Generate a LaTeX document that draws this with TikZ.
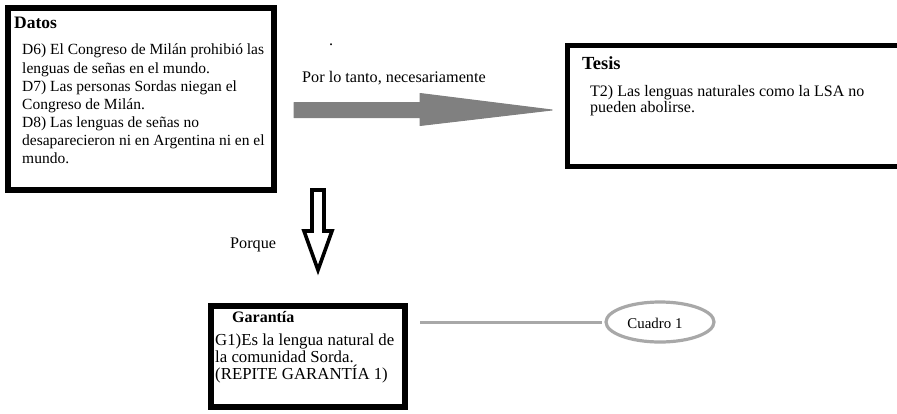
\documentclass[tikz,border=0pt]{standalone}
\usepackage{fontspec}
\setmainfont{Liberation Serif}
\usetikzlibrary{shapes.geometric}
\definecolor{arrowgray}{RGB}{128,128,128}
\definecolor{linegray}{RGB}{168,168,168}
\tikzset{
  frame/.style={draw=black, rectangle, inner sep=0pt},
  body/.style={anchor=north west, inner sep=0pt, align=left},
  title/.style={anchor=west, inner sep=0pt},
  label/.style={anchor=west, inner sep=0pt, font=\fontsize{16.2}{18}\selectfont},
  bigarrow/.style={fill=arrowgray, draw=arrowgray, line width=1pt, line join=round},
  openarrow/.style={draw=black, line width=3.6pt, fill=white, line join=miter},
  linkline/.style={draw=linegray, line width=3pt},
  oval/.style={draw=linegray, ellipse, line width=3.2pt, minimum width=108pt, minimum height=40pt, inner sep=0pt}
}
\begin{document}
\begin{tikzpicture}[x=1pt,y=-1pt]
\useasboundingbox[fill=white] (0,0) rectangle (897,413);
% boxes
\node[frame, line width=6pt, minimum width=266pt, minimum height=182pt] (datos) at (141,99) {};
\node[frame, line width=5pt, minimum width=337.5pt, minimum height=121pt] (tesis) at (736.25,106) {};
\node[frame, line width=6pt, minimum width=194pt, minimum height=101pt] (garantia) at (308,356.5) {};
\node[oval] (cuadro) at (660,322) {};
% texts
\node[title, font=\fontsize{17.5}{19}\selectfont\bfseries] (tdatos) at (14,23) {Datos};
\node[body, font=\fontsize{15.5}{18.1}\selectfont] (bdatos) at (22,44) {D6) El Congreso de Milán prohibió las\\lenguas de señas en el mundo.\\D7) Las personas Sordas niegan el\\Congreso de Milán.\\D8) Las lenguas de señas no\\desaparecieron ni en Argentina ni en el\\mundo.};
\node[title, font=\fontsize{18.5}{20}\selectfont\bfseries] (ttesis) at (582,63) {Tesis};
\node[body, font=\fontsize{16}{16.5}\selectfont] (btesis) at (590,85) {T2) Las lenguas naturales como la LSA no\\pueden abolirse.};
\node[title, font=\fontsize{16}{18}\selectfont\bfseries] (tgar) at (232,317) {Garantía};
\node[body, font=\fontsize{16.8}{17}\selectfont] (bgar) at (215,334) {G1)Es la lengua natural de\\la comunidad Sorda.\\(REPITE GARANTÍA 1)};
\node[label] (lpor) at (302,78) {Por lo tanto, necesariamente};
\node[label] (lporque) at (230,245) {Porque};
\node[label] (dot) at (329,45) {.};
\node[label, anchor=center, font=\fontsize{14.9}{17}\selectfont] (lcuadro) at (655,323) {Cuadro 1};
% main arrow (filled block arrow from Datos towards Tesis)
\coordinate (ay) at (0,110);
\coordinate (as) at ([xshift=17pt]datos.east |- ay);
\coordinate (ae) at ([xshift=-13pt]tesis.west |- ay);
\filldraw[bigarrow] ([yshift=-7.5pt]as) -- ([yshift=-7.5pt]as -| 420,0) -- ([yshift=-15.5pt]as -| 420,0)
  -- (ae) -- ([yshift=16.5pt]as -| 420,0) -- ([yshift=7.5pt]as -| 420,0) -- ([yshift=7.5pt]as) -- cycle;
% open down arrow
\coordinate (dtop) at (318,190);
\draw[openarrow] ([xshift=-6pt]dtop) -- ++(0,41) -- ++(-8,0) -- (318,270) -- (332,231) -- ++(-8,0) -- ([xshift=6pt]dtop) -- cycle;
% link line
\draw[linkline, shorten <=12pt, shorten >=2pt] (garantia.east |- cuadro) -- (cuadro.west);
\end{tikzpicture}
\end{document}
